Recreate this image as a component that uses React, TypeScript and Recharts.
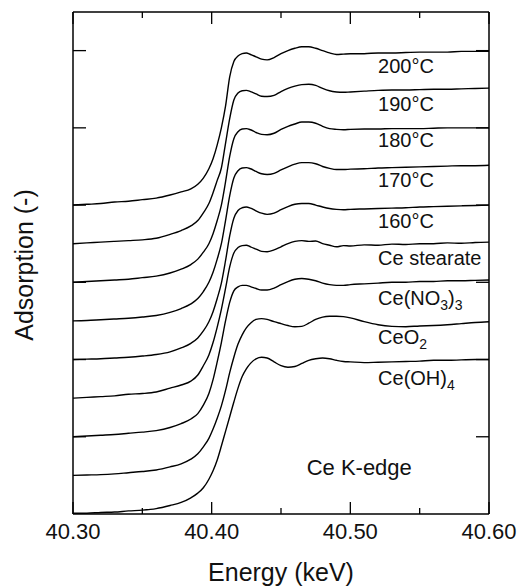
import React from "react";
import { LineChart, Line, XAxis, YAxis, ReferenceDot } from "recharts";

// energy grid (keV), denser around the edge
const energy = [
  40.3, 40.31, 40.32, 40.33, 40.34, 40.35, 40.36, 40.37, 40.378, 40.385, 40.39, 40.394,
  40.398, 40.401, 40.404, 40.407, 40.41, 40.413, 40.416, 40.419, 40.422, 40.425, 40.428, 40.432,
  40.436, 40.44, 40.445, 40.45, 40.455, 40.46, 40.465, 40.47, 40.475, 40.48, 40.485, 40.49,
  40.495, 40.5, 40.51, 40.52, 40.53, 40.54, 40.55, 40.56, 40.57, 40.58, 40.59, 40.6,
];

// normalised absorption of each sample (before vertical offset)
const t200 = [
  0, 0.01, 0.02, 0.04, 0.05, 0.07, 0.09, 0.13, 0.17, 0.21, 0.27, 0.35,
  0.47, 0.6, 0.78, 1.0, 1.28, 1.66, 1.86, 1.93, 1.96, 1.97, 1.95, 1.92,
  1.89, 1.88, 1.91, 1.96, 2.0, 2.03, 2.05, 2.05, 2.03, 2.0, 1.97, 1.95,
  1.955, 1.96, 1.96, 1.97, 1.97, 1.975, 1.98, 1.98, 1.98, 1.99, 1.99, 1.99,
];
const t190 = [
  0, 0.01, 0.02, 0.03, 0.04, 0.05, 0.07, 0.12, 0.17, 0.23, 0.3, 0.4,
  0.52, 0.66, 0.82, 0.98, 1.3, 1.62, 1.86, 1.95, 1.98, 1.985, 1.97, 1.94,
  1.91, 1.905, 1.92, 1.97, 2.01, 2.04, 2.06, 2.065, 2.05, 2.01, 1.98, 1.965,
  1.96, 1.965, 1.975, 1.985, 1.99, 1.99, 1.995, 2.0, 2.0, 2.005, 2.01, 2.015,
];
const t180 = [
  0, 0.01, 0.02, 0.03, 0.04, 0.06, 0.08, 0.12, 0.17, 0.23, 0.3, 0.39,
  0.5, 0.63, 0.8, 1.0, 1.3, 1.63, 1.86, 1.95, 1.985, 1.99, 1.975, 1.94,
  1.915, 1.91, 1.93, 1.98, 2.02, 2.05, 2.075, 2.075, 2.06, 2.02, 1.99, 1.98,
  1.975, 1.98, 1.985, 1.985, 1.99, 1.99, 1.99, 1.995, 2.0, 2.0, 2.0, 2.0,
];
const t170 = [
  0, 0.005, 0.015, 0.025, 0.035, 0.05, 0.07, 0.11, 0.16, 0.22, 0.29, 0.38,
  0.5, 0.63, 0.8, 1.0, 1.3, 1.62, 1.85, 1.945, 1.98, 1.985, 1.97, 1.935,
  1.905, 1.895, 1.91, 1.955, 1.995, 2.03, 2.05, 2.05, 2.035, 2.0, 1.975, 1.96,
  1.96, 1.965, 1.97, 1.98, 1.985, 1.99, 1.995, 2.0, 2.005, 2.01, 2.01, 2.015,
];
const t160 = [
  0, 0.005, 0.01, 0.02, 0.03, 0.045, 0.065, 0.1, 0.15, 0.21, 0.28, 0.37,
  0.49, 0.62, 0.79, 0.99, 1.28, 1.6, 1.83, 1.93, 1.965, 1.975, 1.96, 1.925,
  1.895, 1.88, 1.895, 1.94, 1.98, 2.01, 2.02, 2.02, 2.0, 1.975, 1.955, 1.945,
  1.94, 1.945, 1.95, 1.955, 1.96, 1.965, 1.975, 1.98, 1.985, 1.99, 1.995, 2.0,
];
const ceStearate = [
  0, 0.01, 0.02, 0.03, 0.05, 0.06, 0.08, 0.13, 0.17, 0.22, 0.3, 0.42,
  0.56, 0.72, 0.92, 1.15, 1.42, 1.7, 1.88, 1.95, 1.975, 1.98, 1.96, 1.93,
  1.9, 1.895, 1.92, 1.96, 2.0, 2.03, 2.04, 2.03, 2.035, 2.0, 1.98, 1.96,
  1.975, 1.97, 1.985, 1.98, 1.995, 1.99, 2.0, 2.0, 2.01, 2.005, 2.015, 2.02,
];
const ceNitrate = [
  0, 0.01, 0.02, 0.03, 0.045, 0.06, 0.08, 0.12, 0.17, 0.23, 0.3, 0.41,
  0.56, 0.74, 0.97, 1.22, 1.5, 1.74, 1.89, 1.94, 1.96, 1.96, 1.945, 1.92,
  1.9, 1.9, 1.925, 1.97, 2.01, 2.04, 2.05, 2.04, 2.02, 1.99, 1.97, 1.96,
  1.96, 1.97, 1.98, 1.99, 2.0, 2.0, 2.01, 2.01, 2.02, 2.02, 2.025, 2.03,
];
const ceO2 = [
  0, 0.005, 0.01, 0.02, 0.035, 0.05, 0.07, 0.11, 0.15, 0.21, 0.28, 0.37,
  0.48, 0.6, 0.74, 0.9, 1.1, 1.33, 1.53, 1.7, 1.82, 1.91, 1.97, 2.02,
  2.03, 2.02, 1.99, 1.965, 1.94, 1.925, 1.93, 1.97, 2.02, 2.05, 2.06, 2.06,
  2.055, 2.04, 1.99, 1.95, 1.93, 1.925, 1.935, 1.94, 1.95, 1.965, 1.98, 1.99,
];
const ceOH4 = [
  0.01, 0.01, 0.02, 0.025, 0.04, 0.05, 0.07, 0.11, 0.15, 0.21, 0.27, 0.34,
  0.45, 0.56, 0.7, 0.88, 1.07, 1.26, 1.45, 1.63, 1.78, 1.88, 1.95, 2.01,
  2.03, 2.02, 1.97, 1.92, 1.9, 1.91, 1.95, 1.99, 2.01, 2.02, 2.01, 1.99,
  1.975, 1.97, 1.96, 1.965, 1.97, 1.975, 1.98, 1.99, 1.99, 1.995, 2.0, 2.0,
];

const spectra = [t200, t190, t180, t170, t160, ceStearate, ceNitrate, ceO2, ceOH4];
const offsets = [4, 3.5, 3, 2.5, 2, 1.5, 1, 0.5, 0];

// "_" marks the next character as a subscript
const labels = ["200°C", "190°C", "180°C", "170°C", "160°C", "Ce stearate", "Ce(NO_3)_3", "CeO_2", "Ce(OH)_4"];
const labelY = [5.8, 5.31, 4.84, 4.33, 3.8, 3.315, 2.8, 2.29, 1.757];
const labelX = 40.52;
const edgeNote = { text: "Ce K-edge", x: 40.4685, y: 0.596 };

const xTicks = [40.3, 40.35, 40.4, 40.45, 40.5, 40.55, 40.6];
const xMajor = [40.3, 40.4, 40.5, 40.6];
const yTicks = [1, 2, 3, 4, 5, 6];

const rows = energy.map((e, i) => {
  const r: Record<string, number> = { e };
  spectra.forEach((s, k) => {
    r["s" + k] = s[i] + offsets[k];
  });
  return r;
});

const FONT = "'Liberation Sans', Arial, Helvetica, sans-serif";
const isMajor = (v: number) => xMajor.some((m) => Math.abs(m - v) < 1e-6);

function BottomTick(p: any) {
  const v = p.payload.value;
  const major = isMajor(v);
  return (
    <g>
      <line x1={p.x} x2={p.x} y1={p.y} y2={p.y - (major ? 12 : 6)} stroke="#000" strokeWidth={1.3} />
      {major && (
        <text x={p.x} y={p.y + 25} textAnchor="middle" fontSize={22} fontFamily={FONT} fill="#111">
          {v.toFixed(2)}
        </text>
      )}
    </g>
  );
}

function TopTick(p: any) {
  const major = isMajor(p.payload.value);
  return <line x1={p.x} x2={p.x} y1={p.y} y2={p.y + (major ? 12 : 6)} stroke="#000" strokeWidth={1.3} />;
}

function LeftTick(p: any) {
  return <line x1={p.x} x2={p.x + 13} y1={p.y} y2={p.y} stroke="#000" strokeWidth={1.3} />;
}

function RightTick(p: any) {
  return <line x1={p.x} x2={p.x - 13} y1={p.y} y2={p.y} stroke="#000" strokeWidth={1.3} />;
}

function RichLabel({ viewBox, text, size }: any) {
  const parts: { t: string; sub: boolean }[] = [];
  for (let i = 0; i < text.length; i++) {
    if (text[i] === "_") {
      parts.push({ t: text[i + 1], sub: true });
      i++;
    } else if (parts.length && !parts[parts.length - 1].sub) {
      parts[parts.length - 1].t += text[i];
    } else {
      parts.push({ t: text[i], sub: false });
    }
  }
  let prevSub = false;
  return (
    <text x={viewBox.x} y={viewBox.y + 7} fontSize={size} fontFamily={FONT} fill="#111">
      {parts.map((p, i) => {
        const dy = p.sub ? (prevSub ? 0 : 5) : prevSub ? -5 : 0;
        prevSub = p.sub;
        return (
          <tspan key={i} dy={dy} fontSize={p.sub ? size * 0.7 : size}>
            {p.t}
          </tspan>
        );
      })}
    </text>
  );
}

export default function App() {
  return (
    <div style={{ position: "absolute", left: 0, top: 0, width: 520, height: 587, background: "#fff" }}>
      <LineChart width={520} height={587} data={rows} margin={{ top: 11, right: 30, bottom: 43, left: 13 }}>
        <XAxis
          xAxisId="b"
          dataKey="e"
          type="number"
          domain={[40.3, 40.6]}
          ticks={xTicks}
          interval={0}
          allowDataOverflow
          height={30}
          tickSize={0}
          tickMargin={0}
          tickLine={false}
          axisLine={{ stroke: "#000", strokeWidth: 1.5 }}
          tick={<BottomTick />}
        />
        <XAxis
          xAxisId="t"
          orientation="top"
          dataKey="e"
          type="number"
          domain={[40.3, 40.6]}
          ticks={xTicks}
          interval={0}
          allowDataOverflow
          height={1}
          tickSize={0}
          tickMargin={0}
          tickLine={false}
          axisLine={{ stroke: "#000", strokeWidth: 1.5 }}
          tick={<TopTick />}
        />
        <YAxis
          yAxisId="l"
          type="number"
          domain={[0, 6.5]}
          ticks={yTicks}
          interval={0}
          allowDataOverflow
          width={60}
          tickSize={0}
          tickMargin={0}
          tickLine={false}
          axisLine={{ stroke: "#000", strokeWidth: 1.5 }}
          tick={<LeftTick />}
        />
        <YAxis
          yAxisId="r"
          orientation="right"
          type="number"
          domain={[0, 6.5]}
          ticks={yTicks}
          interval={0}
          allowDataOverflow
          width={1}
          tickSize={0}
          tickMargin={0}
          tickLine={false}
          axisLine={{ stroke: "#000", strokeWidth: 1.5 }}
          tick={<RightTick />}
        />
        {spectra.map((_, k) => (
          <Line
            key={k}
            xAxisId="b"
            yAxisId="l"
            dataKey={"s" + k}
            type="monotone"
            stroke="#000"
            strokeWidth={1.4}
            dot={false}
            isAnimationActive={false}
          />
        ))}
        {labels.map((t, k) => (
          <ReferenceDot
            key={t}
            xAxisId="b"
            yAxisId="l"
            x={labelX}
            y={labelY[k]}
            r={0}
            fill="none"
            stroke="none"
            label={(lp: any) => <RichLabel viewBox={lp.viewBox} text={t} size={20} />}
          />
        ))}
        <ReferenceDot
          xAxisId="b"
          yAxisId="l"
          x={edgeNote.x}
          y={edgeNote.y}
          r={0}
          fill="none"
          stroke="none"
          label={(lp: any) => <RichLabel viewBox={lp.viewBox} text={edgeNote.text} size={22} />}
        />
      </LineChart>
      <svg width={520} height={587} style={{ position: "absolute", left: 0, top: 0, pointerEvents: "none" }}>
        <text x={281} y={581} textAnchor="middle" fontSize={25} fontFamily={FONT} fill="#111">
          Energy (keV)
        </text>
        <text
          x={33}
          y={265}
          textAnchor="middle"
          fontSize={25}
          fontFamily={FONT}
          fill="#111"
          transform="rotate(-90, 33, 265)"
        >
          Adsorption (-)
        </text>
      </svg>
    </div>
  );
}
